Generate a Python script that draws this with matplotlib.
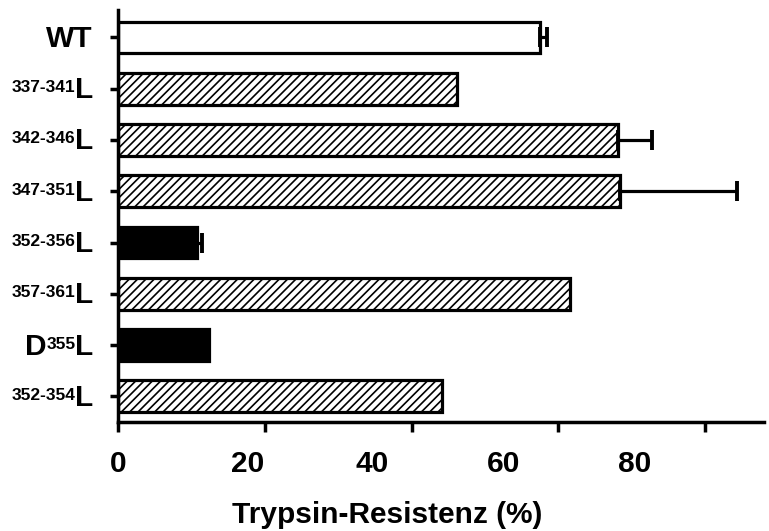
import numpy as np
import matplotlib
matplotlib.use('Agg')
import matplotlib.pyplot as plt
import matplotlib.transforms as mtrans

plt.rcParams['font.family'] = 'Liberation Sans'
plt.rcParams['hatch.linewidth'] = 1.2
plt.rcParams['hatch.color'] = 'black'

# data
groups = ['WT', '337-341', '342-346', '347-351', '352-356', '357-361', 'D355', '352-354']
values = [57.5, 46.2, 68.1, 68.4, 10.8, 61.6, 12.4, 44.1]
errors = [1.0, 0.0, 4.6, 15.9, 0.6, 0.0, 0.0, 0.0]
fills = ['white', 'hatch', 'hatch', 'hatch', 'black', 'hatch', 'black', 'hatch']
xticks = [0, 20, 40, 60, 80]
# tick labels sit a bit off their ticks in the original
xticklabel_pos = [0, 17.7, 34.6, 52.5, 70.4]

lw = 2.3
fig = plt.figure(figsize=(7.69, 5.31), dpi=100)
ax = fig.add_axes([118/769, 1 - 422/531, (764 - 118)/769, (422 - 10)/531])

ypos = np.arange(len(groups))
for y, v, f in zip(ypos, values, fills):
    if f == 'hatch':
        ax.barh(y, v, height=0.62, color='white', edgecolor='black', hatch='////',
                linewidth=lw, zorder=2)
    else:
        ax.barh(y, v, height=0.62, color=f, edgecolor='black', linewidth=lw, zorder=2)

err = np.array(errors)
m = err > 0
ax.errorbar(np.array(values)[m], ypos[m], xerr=[np.zeros(m.sum()), err[m]],
            fmt='none', ecolor='black', elinewidth=lw, capsize=7, capthick=2.8, zorder=3)

ax.set_xlim(0, 88)
ax.set_ylim(len(groups) - 0.5, -0.535)

for s in ['top', 'right']:
    ax.spines[s].set_visible(False)
for s in ['left', 'bottom']:
    ax.spines[s].set_linewidth(2.5)
ax.spines['left'].set_zorder(4)

ax.set_xticks(xticks)
ax.set_xticklabels([])
ax.set_yticks(ypos)
ax.set_yticklabels([])
ax.tick_params(axis='x', length=7, width=2.5)
ax.tick_params(axis='y', length=5.5, width=2.5)

# tick labels
px = 0.72  # points per pixel at 100 dpi
tx = mtrans.blended_transform_factory(ax.transData, ax.transAxes)
for p, t in zip(xticklabel_pos, xticks):
    ax.text(p, 0, str(t), transform=mtrans.offset_copy(tx, fig=fig, x=0, y=-50*px, units='points'),
            ha='center', va='baseline', fontsize=21.5, fontweight='bold')

ty = mtrans.blended_transform_factory(ax.transAxes, ax.transData)
renderer = fig.canvas.get_renderer()
for y, g in zip(ypos, groups):
    if g == 'WT':
        ax.text(0, y, 'WT', transform=mtrans.offset_copy(ty, fig=fig, x=-25*px, y=-9.5*px, units='points'),
                ha='right', va='baseline', fontsize=21.5, fontweight='bold')
        continue
    lt = ax.text(0, y, 'L', transform=mtrans.offset_copy(ty, fig=fig, x=-25*px, y=-9.5*px, units='points'),
                 ha='right', va='baseline', fontsize=21.5, fontweight='bold')
    lwid = lt.get_window_extent(renderer).width
    sup = g[1:] if g.startswith('D') else g
    sx = -25 - lwid + 1
    st = ax.text(0, y, sup, transform=mtrans.offset_copy(ty, fig=fig, x=sx*px, y=-3.5*px, units='points'),
                 ha='right', va='baseline', fontsize=12.5, fontweight='bold')
    if g.startswith('D'):
        w = st.get_window_extent(renderer).width
        ax.text(0, y, 'D', transform=mtrans.offset_copy(ty, fig=fig, x=(sx - w)*px, y=-9.5*px, units='points'),
                ha='right', va='baseline', fontsize=21.5, fontweight='bold')

fig.text(387/769, 1 - 523/531, 'Trypsin-Resistenz (%)', ha='center', va='baseline',
         fontsize=21.5, fontweight='bold')

fig.savefig('out.png', dpi=100)
